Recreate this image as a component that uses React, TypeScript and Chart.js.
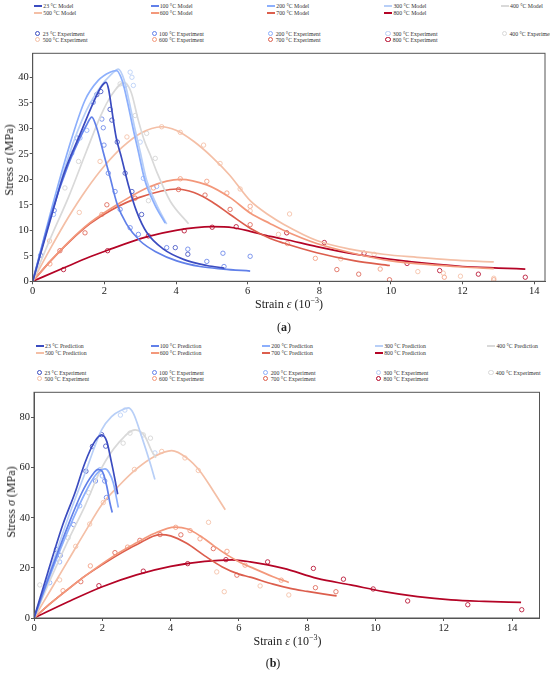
import React, { useEffect, useRef } from "react";
import { Chart, registerables } from "chart.js";

Chart.register(...registerables);

const SERIF = "'Liberation Serif', 'Times New Roman', serif";

// temperature labels and the coolwarm colours used for them
const temps = ["23", "100", "200", "300", "400", "500", "600", "700", "800"];
const colors = ["#3b4cc0", "#6180e9", "#8caffc", "#b8cff7", "#d9d9d9", "#f4bfa6", "#f3987b", "#dc5e4d", "#b40426"];
const dotColors = ["rgba(59,76,192,0.8)", "rgba(97,128,233,0.8)", "rgba(140,175,252,0.8)", "rgba(184,207,247,0.85)", "rgba(210,210,210,0.85)", "rgba(244,191,166,0.85)", "rgba(243,152,123,0.8)", "rgba(220,94,77,0.8)", "rgba(180,4,38,0.8)"];

const xTicks = [0, 2, 4, 6, 8, 10, 12, 14];
const yTicksA = [0, 5, 10, 15, 20, 25, 30, 35, 40];
const yTicksB = [0, 20, 40, 60, 80];

// ---- (a) model curves [strain, stress]
const modelA23 = [[0, 0], [0.5, 12.2], [0.86, 20.9], [1.32, 28.8], [1.69, 35], [1.9, 38], [2.05, 39], [2.12, 37.6], [2.21, 33.5], [2.33, 28.2], [2.48, 24.2], [2.67, 18.9], [2.9, 13.7], [3.18, 9.6], [3.65, 6.3], [4.21, 4.3], [4.86, 3.1], [5.35, 2.6]];
const modelA100 = [[0, 0], [0.5, 12.8], [1.0, 23], [1.3, 27.8], [1.5, 30.6], [1.65, 32.2], [1.79, 30], [1.93, 26.4], [2.0, 24.5], [2.16, 20.4], [2.35, 15.3], [2.62, 11.2], [3.0, 7.9], [3.46, 5.7], [4.02, 4.0], [4.67, 2.9], [5.32, 2.4], [6.07, 2.0]];
const modelA200 = [[0, 0], [0.5, 13.5], [1.0, 26], [1.46, 35.5], [1.83, 39.4], [2.16, 41], [2.34, 41.3], [2.5, 39.3], [2.65, 35], [2.8, 30], [2.95, 25.4], [3.13, 19.8], [3.41, 15], [3.7, 11.4]];
const modelA300 = [[0, 0], [0.5, 12.5], [1.0, 24.5], [1.5, 33.5], [1.9, 38.2], [2.2, 40.6], [2.39, 41.6], [2.55, 39.5], [2.7, 35], [2.85, 30], [3.0, 25.4], [3.18, 19.8], [3.46, 15], [3.74, 11.2]];
const modelA400 = [[0, 0], [0.5, 8.5], [1.0, 16.5], [1.5, 25.5], [1.9, 32.5], [2.2, 36.5], [2.56, 39], [2.75, 37], [2.95, 31.5], [3.12, 27.5], [3.28, 24.8], [3.46, 21.5], [3.84, 15.7], [4.35, 11.3]];
const modelA500 = [[0, 0], [0.5, 6.5], [1.0, 12.6], [1.5, 18], [2.0, 22.6], [2.5, 26.3], [3.0, 29], [3.6, 30.3], [4.0, 29.6], [4.5, 27.4], [5.0, 24.4], [5.5, 20.8], [6.07, 15.8], [6.63, 12.8], [7.0, 11.2], [7.93, 8], [8.86, 6.3], [9.79, 5.3], [10.73, 4.7], [11.66, 4.2], [12.87, 3.8]];
const modelA600 = [[0, 0], [0.5, 4], [1.0, 7.7], [1.6, 11.5], [2.44, 15.4], [3.28, 18.6], [4.11, 20], [4.86, 18.9], [5.51, 16.4], [6.07, 13.4], [6.63, 11.3], [7.0, 10], [7.93, 7.4], [9.0, 5.4], [10.0, 4.0], [11.0, 3.3], [12.0, 2.8], [12.87, 2.5]];
const modelA700 = [[0, 0], [0.5, 4], [1.0, 7.6], [1.6, 11.3], [2.2, 14], [3.0, 16.5], [4.02, 18.1], [4.5, 17.4], [5.0, 15.6], [5.51, 13.1], [6.07, 10.4], [6.63, 8.4], [7.0, 7.5], [7.93, 5.6], [9.0, 4.0], [9.97, 3.1]];
const modelA800 = [[0, 0], [0.86, 2.6], [1.6, 4.8], [2.09, 6.1], [3.18, 8.7], [4.0, 10], [5.0, 10.7], [5.6, 10.5], [6.07, 9.8], [6.63, 8.8], [7.0, 8.3], [7.93, 6.8], [9.0, 5.3], [10.0, 4.3], [11.0, 3.5], [12.0, 2.9], [13.0, 2.6], [13.75, 2.4]];

// ---- (a) experiment points
const expA23 = [[1.79, 36.6], [1.9, 37.2], [2.16, 33.7], [2.21, 31.6], [2.36, 27.3], [2.58, 21.2], [2.77, 17.6], [3.04, 13.1], [3.98, 6.6], [4.33, 5.3]];
const expA100 = [[0.22, 5.1], [0.6, 13.9], [1.23, 28.1], [1.69, 35.1], [1.93, 31.8], [1.97, 30.1], [1.99, 26.7], [2.11, 21.2], [2.3, 17.6], [2.44, 14.1], [2.72, 10.5], [2.95, 9.2], [3.74, 6.6], [4.33, 6.3], [4.86, 3.9], [5.31, 5.5], [5.34, 2.9], [6.07, 4.9]];
const expA200 = [[0.58, 13.1], [1.09, 25.1], [1.32, 28.1], [1.51, 29.6], [2.58, 38.4], [3.09, 20.2], [3.46, 18.6]];
const expA300 = [[2.72, 41], [2.77, 40], [2.81, 38.4], [3.0, 27.3]];
const expA400 = [[0.9, 18.3], [1.28, 23.5], [2.44, 38.7], [2.86, 32.5], [3.18, 29], [3.23, 15.8], [3.42, 24.1]];
const expA500 = [[0.47, 7.9], [1.3, 13.5], [1.88, 23.5], [2.63, 28.3], [3.6, 30.3], [4.12, 29.2], [4.77, 26.7], [5.23, 23.1], [5.79, 18.1], [6.07, 13.8], [7.17, 13.2], [6.86, 9.2], [8.6, 4.4], [9.53, 5.3], [10.75, 1.9], [11.46, 1.6], [11.94, 1.0], [12.87, 0.6]];
const expA600 = [[0.48, 3.4], [1.93, 13.1], [3.37, 18.3], [4.12, 20.1], [4.86, 19.6], [5.42, 17.3], [6.07, 14.7], [7.11, 7.4], [7.89, 4.5], [9.7, 2.4], [11.49, 0.8], [12.87, 0.3]];
const expA700 = [[0.76, 6.0], [1.46, 9.5], [2.07, 15.0], [2.86, 16.3], [4.07, 18.0], [4.81, 16.9], [5.51, 14.1], [6.07, 11.1], [8.49, 2.3], [9.1, 1.4], [9.96, 0.3]];
const expA800 = [[0.86, 2.3], [2.09, 6.0], [3.23, 8.9], [4.23, 9.9], [5.01, 10.6], [5.68, 10.7], [7.09, 9.5], [8.14, 7.6], [9.25, 5.5], [10.45, 3.5], [11.36, 2.1], [12.44, 1.4], [13.75, 0.8]];

// ---- (b) prediction curves
const modelB23 = [[0, 0], [0.4, 18], [0.85, 37.5], [1.2, 50], [1.49, 61.9], [1.78, 70.5], [1.98, 73.1], [2.13, 70.5], [2.27, 62], [2.37, 55.3], [2.45, 49.4]];
const modelB100 = [[0, 0], [0.5, 19], [1.0, 37], [1.4, 50], [1.7, 57], [1.88, 59.3], [2.0, 58.5], [2.13, 52.7], [2.22, 46.1], [2.29, 42.1]];
const modelB200 = [[0, 0], [0.5, 18], [1.0, 35], [1.5, 50], [1.8, 57], [2.08, 59.5], [2.2, 58], [2.32, 54], [2.47, 44.1]];
const modelB300 = [[0, 0], [0.5, 20], [1.0, 40], [1.5, 58], [1.98, 75.1], [2.27, 80.4], [2.57, 83], [2.76, 83.9], [2.91, 81.7], [3.15, 72.5], [3.4, 61.9], [3.54, 55.3]];
const modelB400 = [[0, 0], [0.5, 16], [1.0, 31], [1.5, 45], [1.98, 59.9], [2.47, 69.8], [2.96, 75.1], [3.25, 72.5], [3.45, 66.5], [3.57, 64]];
const modelB500 = [[0, 0], [0.5, 11.5], [1.0, 23], [1.5, 34.5], [2.0, 45.5], [2.5, 53], [3.0, 59.5], [3.5, 64.3], [4.03, 66.8], [4.47, 63.9], [4.86, 58.6], [5.25, 50.7], [5.6, 43.2]];
const modelB600 = [[0, 0], [0.5, 6], [1.0, 11.5], [1.5, 16.8], [2.0, 21.7], [2.5, 26.2], [3.0, 30], [3.5, 33.6], [4.13, 36.3], [4.5, 35.5], [4.86, 32.8], [5.25, 29], [5.65, 25.2], [6.0, 22.5], [6.43, 19.8], [7.0, 16.5], [7.46, 14.2]];
const modelB700 = [[0, 0], [0.5, 6], [1.0, 11.5], [1.5, 16.8], [2.0, 21.3], [2.5, 25.5], [3.0, 29.2], [3.69, 33.3], [4.0, 32.8], [4.47, 29.8], [5.0, 24.8], [5.5, 20.5], [6.0, 17.5], [6.33, 16.3], [7.0, 13.5], [7.5, 11.8], [8.0, 10.6], [8.5, 9.5], [8.86, 8.8]];
const modelB800 = [[0, 0], [1.0, 6.5], [2.0, 12.5], [3.0, 17.2], [4.0, 20.6], [5.0, 22.6], [5.8, 23.2], [6.33, 22.4], [7.31, 19.8], [8.29, 15.8], [9.27, 13.2], [10.25, 10.5], [11.23, 8.5], [12.21, 7.2], [13.19, 6.6], [14.26, 6.2]];

// ---- (b) experiment points
const expB23 = [[0.66, 27.3], [1.52, 58.6], [1.71, 68.5], [1.98, 73.2], [2.1, 68.6]];
const expB100 = [[0.77, 25.0], [1.16, 37.3], [1.8, 54.7], [2.07, 54.7], [2.12, 48.1]];
const expB200 = [[0.46, 14.1], [0.75, 22.4], [1.34, 44.8], [1.93, 59.2], [2.0, 56.7]];
const expB300 = [[2.53, 81], [2.66, 83], [3.54, 65.9]];
const expB400 = [[0.17, 13.2], [1.0, 32], [1.6, 50], [2.61, 69.8], [2.81, 73.8], [3.2, 73.1], [3.41, 71.8]];
const expB500 = [[0.75, 15.2], [1.22, 28.6], [1.63, 37.5], [2.03, 46.1], [2.94, 59.3], [3.74, 66.5], [4.42, 63.9], [4.81, 58.9], [5.11, 38.2], [5.35, 18.4], [5.57, 10.5], [6.62, 12.8], [7.46, 9.2]];
const expB600 = [[0.85, 10.9], [1.65, 20.8], [2.74, 28.3], [4.15, 36.2], [4.57, 34.9], [4.86, 31.6], [5.65, 26.6], [6.18, 21.1], [7.24, 15.1]];
const expB700 = [[1.37, 14.5], [2.37, 26.1], [3.1, 31], [3.69, 33.3], [4.3, 33.2], [5.25, 27.7], [5.94, 17.1], [8.24, 12.1], [8.84, 10.5]];
const expB800 = [[1.9, 12.9], [3.2, 18.7], [4.5, 21.7], [5.62, 23.3], [6.84, 22.4], [8.18, 19.8], [9.06, 15.5], [9.93, 11.6], [10.94, 6.8], [12.7, 5.3], [14.28, 3.3]];

const modelsA = [modelA23, modelA100, modelA200, modelA300, modelA400, modelA500, modelA600, modelA700, modelA800];
const expsA = [expA23, expA100, expA200, expA300, expA400, expA500, expA600, expA700, expA800];
const modelsB = [modelB23, modelB100, modelB200, modelB300, modelB400, modelB500, modelB600, modelB700, modelB800];
const expsB = [expB23, expB100, expB200, expB300, expB400, expB500, expB600, expB700, expB800];

const framePlugin = {
  id: "frame",
  afterDraw(chart: any) {
    const { ctx, chartArea: a } = chart;
    ctx.save();
    ctx.strokeStyle = "#555";
    ctx.lineWidth = 1;
    ctx.strokeRect(a.left, a.top, a.right - a.left, a.bottom - a.top);
    ctx.restore();
  },
};

interface PanelProps {
  models: number[][][];
  exps: number[][][];
  xMax: number;
  yMax: number;
  yTicks: number[];
  top: number;
  height: number;
  padTop: number;
  padBottom: number;
  padRight: number;
  leftW: number;
}

const toPts = (arr: number[][]) => arr.map(([x, y]) => ({ x, y }));

const Panel: React.FC<PanelProps> = (p) => {
  const canvasRef = useRef<HTMLCanvasElement | null>(null);

  useEffect(() => {
    if (!canvasRef.current) return;
    const lines = p.models.map((m, i) => ({
      type: "line" as const,
      data: toPts(m),
      borderColor: colors[i],
      borderWidth: 1.7,
      pointRadius: 0,
      fill: false,
      tension: 0.4,
      cubicInterpolationMode: "monotone" as const,
    }));
    const dots = p.exps.map((e, i) => ({
      type: "scatter" as const,
      data: toPts(e),
      borderColor: dotColors[i],
      backgroundColor: "rgba(0,0,0,0)",
      borderWidth: 1,
      pointRadius: 2.2,
      pointStyle: "circle",
    }));
    const axisCommon = {
      type: "linear" as const,
      min: 0,
      grid: { drawOnChartArea: false, drawTicks: true, tickLength: 3, tickColor: "#555" },
      border: { color: "#555", width: 1 },
      ticks: { padding: 1, color: "#222", font: { family: SERIF, size: 10.5 }, autoSkip: false, maxRotation: 0 },
    };
    const chart = new Chart(canvasRef.current, {
      type: "scatter",
      data: { datasets: [...lines, ...dots] as any },
      options: {
        animation: false,
        responsive: false,
        devicePixelRatio: 1,
        layout: { padding: { top: p.padTop, bottom: p.padBottom, right: p.padRight, left: 0 } },
        plugins: { legend: { display: false }, tooltip: { enabled: false } },
        scales: {
          x: {
            ...axisCommon,
            max: p.xMax,
            afterBuildTicks: (s: any) => {
              s.ticks = xTicks.map((v) => ({ value: v }));
            },
            afterFit: (s: any) => {
              s.height = 20;
            },
          },
          y: {
            ...axisCommon,
            max: p.yMax,
            afterBuildTicks: (s: any) => {
              s.ticks = p.yTicks.map((v) => ({ value: v }));
            },
            afterFit: (s: any) => {
              s.width = p.leftW;
            },
          },
        },
      } as any,
      plugins: [framePlugin],
    });
    return () => {
      chart.destroy();
    };
  }, [p]);

  return (
    <canvas
      ref={canvasRef}
      width={550}
      height={p.height}
      style={{ position: "absolute", left: 0, top: p.top, width: 550, height: p.height }}
    />
  );
};

interface LegendProps {
  colX: number[];
  rows: number[];
  word: string;
}

const Legend: React.FC<LegendProps> = ({ colX, rows, word }) => {
  const items: React.ReactNode[] = [];
  temps.forEach((t, i) => {
    const col = i < 5 ? i : i - 5;
    const r = i < 5 ? 0 : 1;
    const base: React.CSSProperties = {
      position: "absolute",
      left: colX[col],
      height: 8,
      display: "flex",
      alignItems: "center",
      fontSize: 5.8,
      lineHeight: "8px",
      whiteSpace: "nowrap",
      color: "#333",
    };
    items.push(
      <div key={"l" + t} style={{ ...base, top: rows[r] - 4 }}>
        <span style={{ display: "inline-block", width: 8, height: 2, background: colors[i], marginRight: 1 }} />
        <span>{t} °C {word}</span>
      </div>
    );
    items.push(
      <div key={"e" + t} style={{ ...base, top: rows[r + 2] - 4 }}>
        <span
          style={{
            display: "inline-block",
            width: 3.2,
            height: 3.2,
            border: `1px solid ${colors[i]}`,
            borderRadius: "50%",
            marginLeft: 1,
            marginRight: 2.2,
          }}
        />
        <span>{t} °C Experiment</span>
      </div>
    );
  });
  return <>{items}</>;
};

const Text: React.FC<{ x: number; y: number; rot?: boolean; size?: number; children: React.ReactNode }> = ({ x, y, rot, size, children }) => (
  <div
    style={{
      position: "absolute",
      left: x,
      top: y,
      transform: `translate(-50%, -50%)${rot ? " rotate(-90deg)" : ""}`,
      fontSize: size ?? 12,
      whiteSpace: "nowrap",
      color: "#222",
      lineHeight: "16px",
    }}
  >
    {children}
  </div>
);

const supStyle: React.CSSProperties = { fontSize: 8, lineHeight: 0 };

const panelA: PanelProps = {
  models: modelsA, exps: expsA, xMax: 14.3, yMax: 44.7, yTicks: yTicksA,
  top: 46, height: 260, padTop: 4.7, padBottom: 4.7, padRight: 5, leftW: 32.7,
};
const panelB: PanelProps = {
  models: modelsB, exps: expsB, xMax: 14.8, yMax: 90.1, yTicks: yTicksB,
  top: 385, height: 260, padTop: 4.5, padBottom: 7, padRight: 10.5, leftW: 34,
};

export default function App() {
  return (
    <div style={{ position: "absolute", left: 0, top: 0, width: 550, height: 674, background: "#fff", fontFamily: SERIF, overflow: "hidden" }}>
      <Legend colX={[34.3, 150.7, 267.3, 384.4, 501]} rows={[6.3, 12.8, 33.5, 39.6]} word="Model" />
      <Panel {...panelA} />
      <Text x={9} y={160} rot>Stress <i>σ</i> (MPa)</Text>
      <Text x={289} y={304}>Strain <i>ε</i> (10<sup style={supStyle}>−3</sup>)</Text>
      <Text x={284} y={327}>(<b>a</b>)</Text>

      <Legend colX={[36, 150.7, 262.3, 375.2, 487.4]} rows={[346, 352.5, 372.5, 378.7]} word="Prediction" />
      <Panel {...panelB} />
      <Text x={11} y={502} rot>Stress <i>σ</i> (MPa)</Text>
      <Text x={287.5} y={641}>Strain <i>ε</i> (10<sup style={supStyle}>−3</sup>)</Text>
      <Text x={273} y={663}>(<b>b</b>)</Text>
    </div>
  );
}
